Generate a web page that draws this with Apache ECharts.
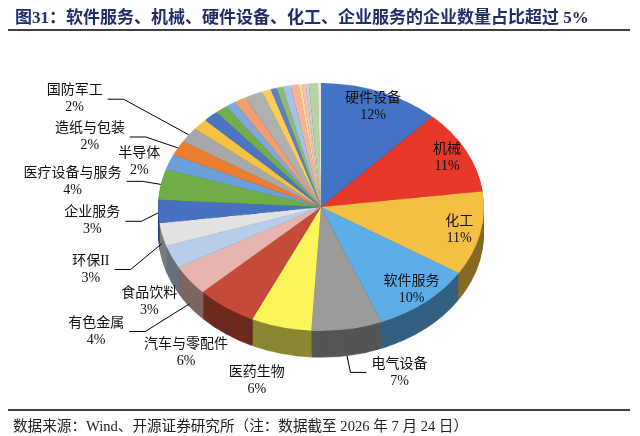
<!DOCTYPE html>
<html><head><meta charset="utf-8">
<script src="https://cdn.jsdelivr.net/npm/echarts@6/dist/echarts.min.js"></script>
<style>
html,body{margin:0;padding:0;background:#fff;}
#wrap{position:relative;width:640px;height:436px;overflow:hidden;background:#fff;}
#pie{position:absolute;left:0;top:0;width:640px;height:436px;transform:scaleY(0.76);transform-origin:0 207px;}
#txt{position:absolute;left:0;top:0;width:640px;height:436px;}
</style></head><body>
<div id="wrap"><div id="pie"></div><div id="txt"></div></div>
<script>
// ---- data ----
const categories = ['硬件设备','机械','化工','软件服务','电气设备','医药生物','汽车与零配件','有色金属','食品饮料','环保II','企业服务','医疗设备与服务','半导体','造纸与包装','国防军工',
  '','','','','','','','','','','','','','','',''];
const values = [12,11,11,10,7,6,6,4,3,3,3,4,2,2,2,
  1.5,1.5,1.2,1.0,1.2,1.8,0.9,0.6,0.6,0.8,0.8,0.3,0.4,0.3,0.9,0.3];
const titleText = '图31：软件服务、机械、硬件设备、化工、企业服务的企业数量占比超过 5%';
const sourceText = '数据来源：Wind、开源证券研究所（注：数据截至 2026 年 7 月 24 日）';

// ---- style ----
const colors = ['#4472C4','#E8382A','#F4C044','#5DADE8','#9B9B9B','#FAF55A','#C44B37','#E6B6AE','#B7CDEB','#E2E2E2','#4770C2','#70AD47','#6A9FD8','#EC7C30','#A8A8A8',
  '#F6C243','#4C74C4','#74AE4C','#7FA9DB','#F0A070','#B0B0B0','#F8CD5A','#5E80C8','#8DBD6B','#A5C2E6','#F2B49C','#F7DE8A','#F1C2BC','#D0D0D0','#B6D4A2','#E6E6E6'];
// where each label goes: inside the slice, outside with a leader line, or right next to the rim
const labelMode = ['in','in','in','in','out','near','near','out','near','out','out','out','near','out','out'];
const leadLen   = [22,22,22,22,22,22,22,55,22,40,22,22,22,30,80];
const K = 0.76, CX = 321, CY = 207, R = 163, D = 35;
const SIDE = D * K;
const FONT = "'Liberation Serif','Noto Sans CJK SC',serif";

function darken(hex, f){
  const n = parseInt(hex.slice(1),16);
  const r=(n>>16)&255, g=(n>>8)&255, b=n&255;
  return 'rgb('+Math.round(r*f)+','+Math.round(g*f)+','+Math.round(b*f)+')';
}

// ---- pie faces (squashed by CSS to look tilted) ----
const pieChart = echarts.init(document.getElementById('pie'));
const faceSeries = [];
const N = 14;
function faceData(colorFn){
  return categories.map((n,i)=>({name:n, value:values[i], itemStyle:{color:colorFn(i)}}));
}
for (let j=N; j>=1; j--) {
  faceSeries.push({
    type:'pie', silent:true, animation:false, center:[CX, CY + D*j/N], radius:R,
    startAngle:90, clockwise:true, label:{show:false}, labelLine:{show:false},
    itemStyle:{borderWidth:0}, emphasis:{disabled:true},
    data: faceData(i=>darken(colors[i], 0.55))
  });
}
faceSeries.push({
  type:'pie', silent:true, animation:false, center:[CX, CY], radius:R,
  startAngle:90, clockwise:true, label:{show:false}, labelLine:{show:false},
  itemStyle:{borderWidth:0}, emphasis:{disabled:true},
  data: faceData(i=>colors[i])
});
pieChart.setOption({animation:false, series:faceSeries});

// ---- texts: map the flat-circle label layout onto the tilted pie ----
function mapY(y){
  const ys = CY + (y - CY)*K;
  return y > CY ? ys + SIDE*Math.min(1, 1.5*(y - CY)/R) : ys;
}
function anchorY(p){
  const r = p.labelRect, va = p.verticalAlign;
  return va==='middle' ? r.y + r.height/2 : (va==='bottom' ? r.y + r.height : r.y);
}
function layoutIn(p){
  const r = p.labelRect;
  return { y: CY + (r.y + r.height/2 - CY)*K };
}
function layoutOut(p){
  const r = p.labelRect;
  const out = { y: mapY(anchorY(p)), x: r.x + r.width/2, align:'center' };
  if (p.labelLinePoints) out.labelLinePoints = p.labelLinePoints.map(pt=>[pt[0], mapY(pt[1])]);
  return out;
}
function layoutNear(p){
  const r = p.labelRect;
  const ay = anchorY(p);
  if (ay > CY) {
    // lower half: sit just below the pie's side, slightly left of the slice
    return { y: CY + (ay - CY)*K + SIDE + 18, x: r.x + r.width - r.width*0.3, align:'center' };
  }
  return { y: mapY(ay), x: r.x + r.width/2, align:'center' };
}
const labelStyle = {fontFamily:FONT, fontSize:14, lineHeight:17, color:'#111', formatter:'{b}\n{c}%'};
function labelSeries(mode, extra){
  return Object.assign({
    type:'pie', silent:true, center:[CX,CY], radius:R, startAngle:90, clockwise:true,
    itemStyle:{color:'rgba(0,0,0,0)', borderWidth:0}, emphasis:{disabled:true},
    data: categories.map((n,i)=>{
      const on = labelMode[i]===mode;
      const item = {name:n, value:values[i], label:{show:on}, labelLine:{show:on && mode==='out'}};
      if (on && mode==='out') item.labelLine.length = leadLen[i];
      return item;
    })
  }, extra);
}
const txtChart = echarts.init(document.getElementById('txt'));
txtChart.setOption({
  animation:false,
  title:[
    {text:titleText, left:10, top:5, textStyle:{fontFamily:FONT, fontSize:17, fontWeight:'bold', color:'#1F2D6B'}},
    {text:sourceText, left:8, top:415, textStyle:{fontFamily:FONT, fontSize:14.6, fontWeight:'normal', color:'#222'}}
  ],
  graphic:[
    {type:'line', shape:{x1:8, y1:30, x2:630, y2:30}, style:{stroke:'#000', lineWidth:1.5}},
    {type:'line', shape:{x1:8, y1:410, x2:630, y2:410}, style:{stroke:'#000', lineWidth:1.5}}
  ],
  series:[
    labelSeries('in', {
      radius:[R*0.7, R],
      label:Object.assign({position:'inside'}, labelStyle),
      labelLine:{show:false}, labelLayout: layoutIn
    }),
    labelSeries('out', {
      label:Object.assign({position:'outside', padding:[6,0]}, labelStyle),
      labelLine:{show:true, length:22, length2:16, lineStyle:{color:'#000', width:1}},
      labelLayout: layoutOut
    }),
    labelSeries('near', {
      label:Object.assign({position:'outside'}, labelStyle),
      labelLine:{show:false, length:2, length2:2},
      labelLayout: layoutNear
    })
  ]
});
</script>
</body></html>
